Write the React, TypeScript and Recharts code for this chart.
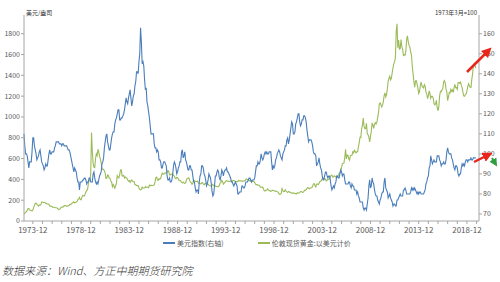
import { LineChart, Line, XAxis, YAxis } from "recharts"

const COLORS = {
  dollar: "#4A7EBB",
  gold:   "#9BBB59",
  axis:   "#A6A6A6",
  text:   "#595959",
  arrow:  "#E8261C",
  green:  "#2E9E3E",
}

const START_YEAR = 1973

// 美元指数, monthly, 1973-01 .. 2019-11
const dollarIndex = [
  110, 104, 100, 100, 99, 96, 93, 96, 96, 96, 101, 108,
  108, 104, 102, 100, 97, 98, 99, 101, 102, 99, 96, 95,
  94, 92, 93, 95, 94, 94, 97, 100, 102, 100, 100, 101,
  101, 101, 103, 104, 106, 106, 106, 106, 105, 105, 105, 104,
  105, 105, 104, 104, 104, 104, 103, 102, 102, 101, 99, 97,
  95, 93, 91, 93, 92, 91, 88, 86, 86, 82, 86, 86,
  86, 87, 87, 88, 88, 87, 85, 86, 86, 88, 88, 86,
  86, 86, 90, 91, 88, 86, 85, 86, 85, 87, 89, 90,
  91, 95, 96, 98, 103, 106, 109, 110, 106, 104, 102, 102,
  105, 108, 110, 111, 111, 115, 117, 118, 120, 122, 122, 117,
  117, 118, 118, 119, 120, 122, 125, 128, 126, 125, 128, 130,
  132, 128, 124, 126, 129, 130, 134, 136, 141, 141, 140, 146,
  150, 163, 156, 145, 146, 144, 137, 132, 133, 126, 124, 121,
  118, 114, 110, 110, 110, 110, 105, 103, 103, 101, 102, 101,
  97, 97, 96, 93, 93, 95, 96, 96, 95, 94, 89, 87,
  87, 88, 86, 86, 87, 90, 94, 96, 95, 93, 90, 91,
  93, 94, 96, 96, 101, 102, 98, 99, 101, 97, 96, 94,
  92, 92, 94, 94, 92, 92, 89, 86, 86, 83, 81, 82,
  82, 80, 86, 89, 90, 94, 94, 93, 90, 89, 87, 84,
  85, 87, 90, 89, 88, 85, 81, 79, 80, 84, 89, 89,
  91, 92, 91, 88, 87, 89, 92, 91, 89, 91, 92, 92,
  93, 91, 91, 90, 89, 88, 86, 86, 85, 84, 85, 86,
  85, 84, 80, 80, 81, 81, 81, 84, 84, 83, 83, 84,
  86, 86, 86, 87, 88, 88, 87, 86, 87, 87, 87, 88,
  91, 94, 94, 96, 95, 95, 97, 100, 98, 97, 98, 100,
  101, 100, 101, 100, 100, 101, 101, 101, 96, 92, 94, 93,
  94, 97, 98, 100, 101, 102, 101, 99, 98, 97, 100, 101,
  102, 104, 104, 107, 108, 105, 107, 110, 113, 116, 115, 110,
  110, 111, 115, 116, 118, 120, 120, 116, 114, 115, 117, 117,
  119, 119, 118, 116, 112, 109, 106, 107, 107, 107, 106, 104,
  101, 100, 100, 99, 94, 95, 96, 98, 95, 93, 92, 89,
  87, 87, 89, 91, 91, 89, 88, 89, 89, 87, 84, 82,
  83, 84, 83, 85, 86, 89, 89, 88, 88, 90, 92, 91,
  89, 90, 90, 87, 85, 85, 85, 85, 86, 86, 84, 83,
  85, 84, 84, 82, 82, 82, 80, 81, 79, 78, 76, 76,
  76, 76, 73, 72, 73, 73, 72, 75, 78, 84, 87, 83,
  84, 88, 86, 85, 82, 80, 79, 79, 77, 76, 75, 77,
  78, 80, 81, 81, 86, 88, 83, 82, 81, 78, 79, 80,
  78, 77, 76, 74, 75, 75, 74, 74, 77, 77, 78, 79,
  80, 79, 79, 79, 82, 82, 83, 82, 80, 80, 80, 80,
  80, 81, 83, 82, 83, 82, 83, 82, 81, 80, 81, 80,
  81, 81, 80, 80, 80, 80, 81, 82, 85, 86, 88, 89,
  93, 94, 99, 97, 95, 96, 97, 96, 96, 96, 99, 99,
  99, 97, 96, 94, 95, 95, 96, 95, 95, 97, 101, 103,
  101, 100, 100, 100, 98, 97, 95, 93, 92, 94, 94, 93,
  90, 89, 90, 90, 93, 95, 94, 95, 94, 96, 97, 97,
  96, 97, 97, 97, 98, 97, 97, 98, 98, 98, 98,
]

// 伦敦现货黄金:以美元计价, monthly, 1973-01 .. 2019-11
const goldPrice = [
  65, 74, 84, 91, 102, 120, 120, 106, 103, 100, 95, 106,
  129, 150, 168, 172, 163, 154, 143, 154, 151, 158, 182, 183,
  176, 180, 178, 170, 167, 164, 166, 160, 144, 143, 142, 139,
  131, 132, 132, 128, 128, 126, 118, 110, 114, 117, 130, 134,
  133, 136, 148, 149, 147, 141, 144, 145, 149, 158, 162, 161,
  173, 178, 184, 175, 177, 183, 188, 206, 212, 227, 206, 204,
  227, 245, 242, 239, 257, 279, 294, 301, 355, 392, 392, 456,
  850, 665, 554, 517, 513, 600, 645, 627, 690, 661, 623, 594,
  557, 500, 499, 495, 480, 460, 409, 410, 443, 437, 413, 410,
  384, 374, 330, 350, 334, 315, 339, 364, 435, 422, 414, 444,
  490, 491, 434, 432, 438, 413, 423, 416, 412, 394, 382, 388,
  371, 386, 394, 381, 377, 378, 348, 348, 341, 340, 341, 320,
  303, 299, 304, 325, 316, 317, 317, 330, 323, 326, 325, 321,
  345, 339, 345, 340, 342, 343, 348, 376, 418, 423, 396, 391,
  408, 401, 409, 438, 460, 450, 450, 461, 460, 465, 467, 486,
  477, 442, 443, 452, 451, 451, 437, 431, 413, 406, 420, 419,
  404, 388, 391, 384, 371, 367, 375, 365, 362, 367, 394, 409,
  410, 417, 393, 374, 369, 352, 362, 395, 389, 380, 381, 378,
  384, 364, 363, 358, 357, 367, 368, 356, 348, 359, 360, 361,
  354, 354, 345, 339, 337, 341, 353, 343, 345, 344, 335, 334,
  329, 329, 330, 342, 367, 371, 392, 378, 355, 364, 373, 383,
  387, 382, 384, 378, 381, 386, 385, 380, 391, 389, 384, 379,
  379, 376, 382, 391, 385, 387, 386, 383, 383, 383, 386, 387,
  400, 405, 396, 393, 392, 385, 383, 387, 383, 381, 378, 369,
  355, 347, 352, 344, 344, 341, 324, 324, 323, 325, 306, 289,
  289, 297, 296, 308, 299, 292, 293, 284, 289, 296, 294, 291,
  287, 287, 286, 282, 277, 262, 256, 257, 265, 311, 293, 283,
  284, 300, 286, 280, 275, 285, 282, 274, 273, 270, 266, 272,
  266, 262, 263, 261, 272, 270, 268, 273, 283, 283, 276, 275,
  282, 296, 294, 302, 314, 322, 314, 310, 319, 317, 319, 333,
  357, 359, 340, 328, 355, 356, 351, 360, 379, 379, 390, 407,
  414, 405, 406, 404, 384, 392, 398, 401, 406, 420, 439, 442,
  424, 423, 434, 429, 422, 431, 424, 438, 456, 470, 476, 510,
  549, 555, 557, 610, 690, 596, 633, 632, 598, 585, 627, 629,
  631, 665, 655, 679, 667, 655, 665, 665, 712, 754, 806, 803,
  889, 922, 990, 909, 888, 889, 939, 839, 829, 806, 760, 816,
  858, 943, 924, 890, 928, 945, 934, 949, 996, 1043, 1127, 1134,
  1118, 1095, 1113, 1148, 1205, 1232, 1193, 1215, 1271, 1343, 1370, 1391,
  1356, 1372, 1424, 1473, 1510, 1529, 1572, 1820, 1895, 1665, 1739, 1652,
  1656, 1743, 1675, 1649, 1591, 1598, 1594, 1630, 1745, 1780, 1722, 1688,
  1671, 1627, 1593, 1485, 1414, 1343, 1286, 1347, 1349, 1316, 1275, 1225,
  1244, 1300, 1336, 1299, 1287, 1279, 1311, 1296, 1239, 1222, 1176, 1200,
  1251, 1227, 1179, 1198, 1199, 1181, 1131, 1117, 1125, 1159, 1086, 1060,
  1097, 1200, 1246, 1242, 1260, 1276, 1337, 1350, 1326, 1267, 1238, 1157,
  1192, 1234, 1231, 1266, 1246, 1260, 1236, 1283, 1314, 1280, 1283, 1265,
  1331, 1331, 1325, 1335, 1303, 1282, 1238, 1202, 1198, 1215, 1221, 1250,
  1291, 1320, 1300, 1285, 1284, 1359, 1413, 1500, 1510, 1494, 1470,
]

const xLabels = [
  "1973-12", "1978-12", "1983-12", "1988-12", "1993-12",
  "1998-12", "2003-12", "2008-12", "2013-12", "2018-12",
]
const leftTicks  = [0, 200, 400, 600, 800, 1000, 1200, 1400, 1600, 1800]
const rightTicks = [70, 80, 90, 100, 110, 120, 130, 140, 150, 160]

const monthLabel = (i: number) => {
  const y = START_YEAR + Math.floor(i / 12)
  const m = (i % 12) + 1
  return `${y}-${m < 10 ? "0" + m : m}`
}

const data = dollarIndex.map((v, i) => ({
  i,
  date: monthLabel(i),
  dollar: v,
  gold: goldPrice[i],
}))

// December of every year gets a tick, labels every five years
const yearTicks: number[] = []
for (let i = 11; i <= 563; i += 12) yearTicks.push(i)

const tickStyle = { fontSize: 8, fill: COLORS.text, fontFamily: "'Noto Sans CJK SC', sans-serif" }
const yTickStyle = { ...tickStyle, fontSize: 7 }

export default function App() {
  return (
    <div style={{ position: "absolute", left: 0, top: 0, width: 500, height: 282, background: "#fff", fontFamily: "'Noto Sans CJK SC', sans-serif" }}>
      <LineChart width={500} height={282} data={data} margin={{ top: 15, right: 0, left: 0, bottom: 45 }}>
        <XAxis
          dataKey="i"
          type="number"
          domain={[0, 566]}
          ticks={yearTicks}
          interval={0}
          tickFormatter={(v: number) => (xLabels.includes(monthLabel(v)) ? monthLabel(v) : "")}
          tick={tickStyle}
          stroke={COLORS.axis}
          tickSize={3}
          tickMargin={3}
          height={16}
        />
        <YAxis
          yAxisId="left"
          domain={[0, 1980]}
          ticks={leftTicks}
          interval={0}
          tick={yTickStyle}
          stroke={COLORS.axis}
          tickSize={3}
          tickMargin={1}
          width={24}
        />
        <YAxis
          yAxisId="right"
          orientation="right"
          domain={[66.5, 169.35]}
          ticks={rightTicks}
          interval={0}
          tick={yTickStyle}
          stroke={COLORS.axis}
          tickSize={3}
          tickMargin={1}
          width={21}
        />
        <Line yAxisId="left" dataKey="gold" stroke={COLORS.gold} strokeWidth={1.1} dot={false} isAnimationActive={false} name="伦敦现货黄金:以美元计价" />
        <Line yAxisId="right" dataKey="dollar" stroke={COLORS.dollar} strokeWidth={1.1} dot={false} isAnimationActive={false} name="美元指数(右轴)" />
      </LineChart>

      <div style={{ position: "absolute", left: 26, top: 8, fontSize: 6, color: "#333", whiteSpace: "nowrap" }}>美元/盎司</div>
      <div style={{ position: "absolute", left: 435, top: 8, fontSize: 6, color: "#333", whiteSpace: "nowrap" }}>1973年3月=100</div>

      <div style={{ position: "absolute", left: 163, top: 238, display: "flex", alignItems: "center", fontSize: 7, color: COLORS.text, whiteSpace: "nowrap" }}>
        <span style={{ display: "inline-block", width: 12, height: 1.5, background: COLORS.dollar, marginRight: 2 }} />
        美元指数(右轴)
        <span style={{ display: "inline-block", width: 12, height: 1.5, background: COLORS.gold, marginLeft: 34, marginRight: 2 }} />
        伦敦现货黄金:以美元计价
      </div>

      <div style={{ position: "absolute", left: 2, top: 262, fontSize: 11, fontStyle: "italic", fontWeight: 300, color: "#333", whiteSpace: "nowrap" }}>
        数据来源：Wind、方正中期期货研究院
      </div>

      <svg width={500} height={282} style={{ position: "absolute", left: 0, top: 0, pointerEvents: "none" }}>
        <defs>
          <marker id="redHead" markerWidth="4" markerHeight="4" refX="2" refY="2" orient="auto">
            <path d="M0,0 L4,2 L0,4 z" fill={COLORS.arrow} />
          </marker>
          <marker id="greenHead" markerWidth="4" markerHeight="4" refX="2" refY="2" orient="auto">
            <path d="M0,0 L4,2 L0,4 z" fill={COLORS.green} />
          </marker>
        </defs>
        <line x1={467} y1={72} x2={488} y2={51} stroke={COLORS.arrow} strokeWidth={2.5} markerEnd="url(#redHead)" />
        <line x1={474} y1={162} x2={488} y2={155} stroke={COLORS.arrow} strokeWidth={2.5} markerEnd="url(#redHead)" />
        <line x1={492} y1={158} x2={495} y2={163} stroke={COLORS.green} strokeWidth={2} markerEnd="url(#greenHead)" />
      </svg>
    </div>
  )
}
